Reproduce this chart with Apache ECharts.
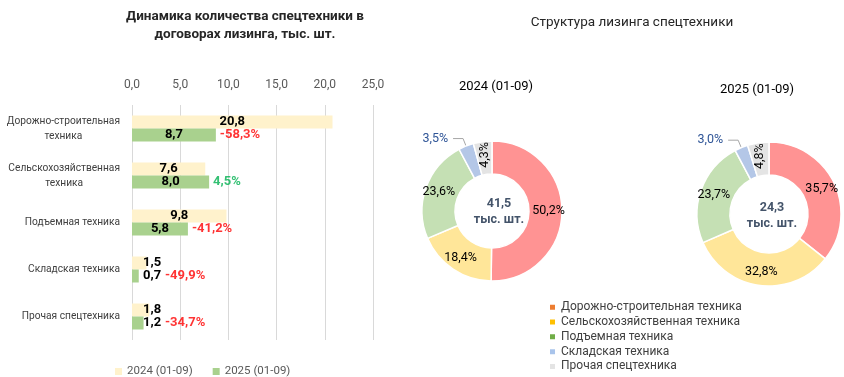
<!DOCTYPE html>
<html>
<head>
<meta charset="utf-8">
<script src="https://cdn.jsdelivr.net/npm/echarts@6/dist/echarts.min.js"></script>
<style>
  html, body { margin: 0; padding: 0; background: #fff; }
  #chart { width: 844px; height: 377px; }
</style>
</head>
<body>
<div id="chart"></div>
<script>
// данные
const categories = ['Дорожно-строительная техника', 'Сельскохозяйственная техника', 'Подъемная техника', 'Складская техника', 'Прочая спецтехника'];
const years = ['2024 (01-09)', '2025 (01-09)'];
const v2024 = [20.8, 7.6, 9.8, 1.5, 1.8];
const v2025 = [8.7, 8.0, 5.8, 0.7, 1.2];
const change = [-58.3, 4.5, -41.2, -49.9, -34.7];
const share2024 = [50.2, 18.4, 23.6, 3.5, 4.3];
const share2025 = [35.7, 32.8, 23.7, 3.0, 4.8];
const total2024 = 41.5;
const total2025 = 24.3;
const xMin = 0, xMax = 25, xStep = 5;

const pieColors = ['#FF9393', '#FFE699', '#C5E0B4', '#B4C7E7', '#E4E4E4'];
const legendColors = ['#ED7D31', '#FFC000', '#70AD47', '#A9C4EB', '#E4E4E4'];
const FONT = 'Roboto';

const fmt = v => v.toFixed(1).replace('.', ',');

// grid
const gridLeft = 132, gridWidth = 241;
const pxPer = gridWidth / (xMax - xMin);

function barLabel(v) {
  if (v < 3) return { position: 'insideLeft', distance: 11 };
  return { position: 'inside' };
}

let chart = echarts.init(document.getElementById('chart'));

function pieData(shares, outsideColor) {
  return shares.map((s, i) => {
    let d = { name: categories[i], value: s, itemStyle: { color: pieColors[i] } };
    if (i === 3) {
      d.label = { position: 'outside', color: outsideColor };
      d.labelLine = { show: true, length: 8, length2: 10, lineStyle: { color: '#A6A6A6', width: 1 } };
    }
    if (i === 4) d.label = { rotate: 90 };
    return d;
  });
}

const pieBase = {
  type: 'pie',
  startAngle: 90,
  clockwise: true,
  avoidLabelOverlap: false,
  itemStyle: { borderColor: '#fff', borderWidth: 1.5 },
  label: {
    show: true, position: 'inside', fontFamily: FONT, fontSize: 12.5, color: '#000',
    formatter: p => fmt(p.value) + '%'
  },
  labelLine: { show: false },
  emphasis: { scale: false }
};

let option = {
  animation: false,
  title: [
    {
      text: 'Динамика количества спецтехники в\nдоговорах лизинга, тыс. шт.',
      left: 240, top: 3, textAlign: 'center',
      textStyle: { fontFamily: FONT, fontSize: 13.5, fontWeight: 'bold', color: '#262626', lineHeight: 18 }
    },
    {
      text: 'Структура лизинга спецтехники',
      left: 627, top: 11, textAlign: 'center',
      textStyle: { fontFamily: FONT, fontSize: 13.5, fontWeight: 'normal', color: '#262626' }
    },
    {
      text: years[0], left: 491, top: 75, textAlign: 'center',
      textStyle: { fontFamily: FONT, fontSize: 13, fontWeight: 'normal', color: '#000' }
    },
    {
      text: years[1], left: 752, top: 78, textAlign: 'center',
      textStyle: { fontFamily: FONT, fontSize: 13, fontWeight: 'normal', color: '#000' }
    },
    {
      text: fmt(total2024) + '\nтыс. шт.', left: 494, top: 191, textAlign: 'center',
      textStyle: { fontFamily: FONT, fontSize: 12.5, fontWeight: 'bold', color: '#44546A', lineHeight: 16 }
    },
    {
      text: fmt(total2025) + '\nтыс. шт.', left: 767, top: 195, textAlign: 'center',
      textStyle: { fontFamily: FONT, fontSize: 12.5, fontWeight: 'bold', color: '#44546A', lineHeight: 16 }
    }
  ],
  legend: [
    {
      data: years,
      left: 110, top: 360,
      icon: 'rect', itemWidth: 7, itemHeight: 7, itemGap: 20,
      textStyle: { fontFamily: FONT, fontSize: 11.5, color: '#595959', lineHeight: 13 }
    },
    {
      data: categories.map((c, i) => ({ name: c, itemStyle: { color: legendColors[i] } })),
      orient: 'vertical',
      left: 543, top: 296, height: 80,
      icon: 'rect', itemWidth: 7, itemHeight: 7, itemGap: 2.3,
      textStyle: { fontFamily: FONT, fontSize: 12, color: '#404040', lineHeight: 12.5 }
    }
  ],
  grid: { left: gridLeft, width: gridWidth, top: 105, height: 235, outerBoundsMode: 'none', containLabel: false },
  xAxis: {
    type: 'value', position: 'top',
    min: xMin, max: xMax, interval: xStep,
    axisLine: { show: false }, axisTick: { show: false },
    splitLine: { lineStyle: { color: '#D9D9D9', width: 1 } },
    axisLabel: { fontFamily: FONT, fontSize: 12, color: '#595959', margin: 14, formatter: v => fmt(v) }
  },
  yAxis: {
    type: 'category', inverse: true, data: categories,
    axisLine: { show: false }, axisTick: { show: false },
    axisLabel: {
      fontFamily: FONT, fontSize: 10.2, color: '#404040', margin: 12, lineHeight: 15,
      formatter: function (val) {
        if (val.length > 20) {
          let k = val.lastIndexOf(' ');
          return '{c|' + val.slice(0, k) + '}\n{c|' + val.slice(k + 1) + '}';
        }
        return val;
      },
      rich: { c: { align: 'center', fontFamily: FONT, fontSize: 10.2, color: '#404040', lineHeight: 15 } }
    }
  },
  series: [
    {
      name: years[0], type: 'bar', barWidth: 13, barGap: '0%',
      itemStyle: { color: '#FFF2CC' },
      data: v2024.map(v => ({ value: v, label: barLabel(v) })),
      label: { show: true, fontFamily: FONT, fontSize: 13, fontWeight: 'bold', color: '#000', formatter: p => fmt(p.value) }
    },
    {
      name: years[1], type: 'bar', barWidth: 13, barGap: '0%',
      itemStyle: { color: '#A9D18E' },
      data: v2025.map(v => ({ value: v, label: barLabel(v) })),
      label: { show: true, fontFamily: FONT, fontSize: 13, fontWeight: 'bold', color: '#000', formatter: p => fmt(p.value) }
    },
    {
      // подписи изменения, %
      name: 'change', type: 'scatter', symbolSize: 0, silent: true,
      data: v2025.map((v, i) => {
        let dx = v < 3 ? 165 - (gridLeft + v * pxPer) - 4 : 0;
        return {
          value: [v, i],
          label: { offset: [dx, 6.5], color: change[i] < 0 ? '#FF0000' : '#00B050' }
        };
      }),
      label: {
        show: true, position: 'right', distance: 4,
        fontFamily: FONT, fontSize: 13, fontWeight: 'bold',
        formatter: p => fmt(change[p.dataIndex]) + '%'
      }
    },
    Object.assign({}, pieBase, {
      name: years[0], center: [492, 211], radius: [37, 70],
      data: pieData(share2024, '#2F5597')
    }),
    Object.assign({}, pieBase, {
      name: years[1], center: [769, 214], radius: [39, 72],
      data: pieData(share2025, '#2F5597')
    })
  ]
};

chart.setOption(option);
</script>
</body>
</html>
